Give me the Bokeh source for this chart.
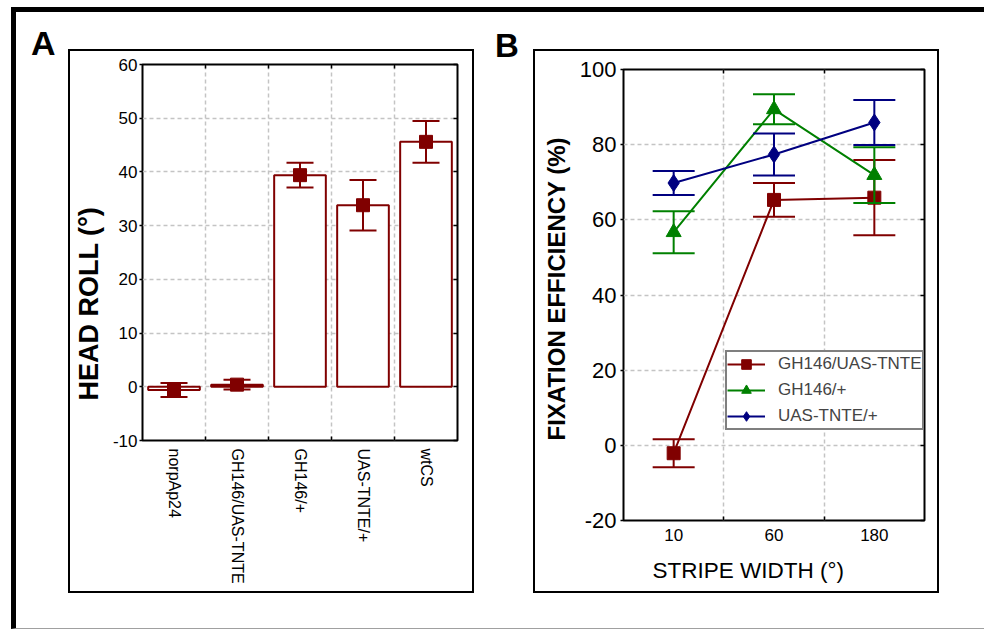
import numpy as np
from bokeh.plotting import figure
from bokeh.models import (Range1d, FixedTicker, SingleIntervalTicker, PrintfTickFormatter,
                          ColumnDataSource, Title, Spacer, Div, LinearAxis)
from bokeh.embed import file_html
from bokeh.resources import INLINE

FONT = "Liberation Sans"
RED = "#800000"
GREEN = "#008000"
NAVY = "#000080"
GRID = "#c4c4c4"

# ---------------- Panel A data ----------------
genotypes = ["norpAp24", "GH146/UAS-TNTE", "GH146/+", "UAS-TNTE/+", "wtCS"]
head_roll_mean = [-0.6, 0.4, 39.4, 33.8, 45.6]
head_roll_err = [1.3, 0.9, 2.3, 4.7, 3.9]
head_roll_ticks = [-10, 0, 10, 20, 30, 40, 50, 60]

# ---------------- Panel B data ----------------
stripe_widths = ["10", "60", "180"]
tnte_mean = [-2.1, 65.3, 65.9]
tnte_err = [3.7, 4.5, 10.0]
gh146_mean = [56.7, 89.4, 71.9]
gh146_err = [5.6, 4.0, 7.4]
uas_mean = [69.8, 77.4, 85.9]
uas_err = [3.2, 5.6, 6.0]
efficiency_ticks = [-20, 0, 20, 40, 60, 80, 100]


def absolute(left, top, extra=None):
    st = {"position": "absolute", "left": f"{left}px", "top": f"{top}px"}
    if extra:
        st.update(extra)
    return st


def style_axis(ax, size="16px", standoff=2, tick_in=0, tick_out=3):
    ax.axis_line_color = None
    ax.major_tick_line_color = "black"
    ax.major_tick_line_width = 1.5
    ax.major_tick_in = tick_in
    ax.major_tick_out = tick_out
    ax.minor_tick_line_color = "black"
    ax.minor_tick_line_width = 1.5
    ax.minor_tick_in = 4
    ax.minor_tick_out = 0
    ax.major_label_text_font = FONT
    ax.major_label_text_color = "black"
    ax.major_label_standoff = standoff
    ax.major_label_text_font_size = size


def tick_only_axis(minor_ticks):
    # an axis with no major ticks (so no labels) that only draws inward tick marks
    ax = LinearAxis(ticker=FixedTicker(ticks=[], minor_ticks=list(minor_ticks)))
    ax.axis_line_color = None
    ax.major_tick_line_color = None
    ax.minor_tick_line_color = "black"
    ax.minor_tick_line_width = 1.5
    ax.minor_tick_in = 4
    ax.minor_tick_out = 0
    ax.major_label_standoff = 0
    return ax


def style_grid(p):
    p.xgrid.grid_line_color = None
    p.xgrid.minor_grid_line_color = GRID
    p.xgrid.minor_grid_line_dash = "4 3"
    p.xgrid.minor_grid_line_width = 1.5
    p.ygrid.grid_line_color = GRID
    p.ygrid.grid_line_dash = "4 3"
    p.ygrid.grid_line_width = 1.5


def panel_letter(txt, size, left, top):
    html = (f'<div style="font-family:\'{FONT}\';font-size:{size};font-weight:bold;'
            f'line-height:{size};color:black;margin:0;padding:0;">{txt}</div>')
    return Div(text=html, styles=absolute(left, top, {"line-height": size, "margin": "0"}))


def panel_box(left, top, w, h):
    return Spacer(width=w, height=h,
                  styles=absolute(left, top, {"border": "2px solid black",
                                              "box-sizing": "border-box",
                                              "pointer-events": "none"}))


def axis_title(text, size, bold, offset, standoff):
    return Title(text=text, align="left", offset=offset, standoff=standoff,
                 text_font=FONT, text_font_size=size,
                 text_font_style="bold" if bold else "normal", text_color="black")


# ================= Panel A =================
nA = len(genotypes)
xa = np.arange(nA) + 0.5
mA = np.array(head_roll_mean)
eA = np.array(head_roll_err)
srcA = ColumnDataSource(dict(x=xa, mean=mA, upper=mA + eA, lower=mA - eA))

pA = figure(width=409, height=540, x_range=Range1d(0, nA),
            y_range=Range1d(head_roll_ticks[0], head_roll_ticks[-1]),
            output_backend="svg", toolbar_location=None,
            min_border_left=79, min_border_right=15, min_border_top=13, min_border_bottom=151,
            outline_line_color="black", outline_line_width=2,
            styles=absolute(63, 51))

boundsA = list(np.arange(1, nA))
tickA_x = FixedTicker(ticks=list(xa), minor_ticks=boundsA)
tickA_y = FixedTicker(ticks=head_roll_ticks)
pA.xaxis.ticker = tickA_x
pA.xgrid.ticker = tickA_x
pA.yaxis.ticker = tickA_y
pA.ygrid.ticker = tickA_y
pA.yaxis.formatter = PrintfTickFormatter(format="%d")
pA.xaxis.major_label_overrides = {float(x): g for x, g in zip(xa, genotypes)}
pA.xaxis.major_label_orientation = "vertical"
style_axis(pA.xaxis[0], size="16px", standoff=8, tick_in=0, tick_out=0)
style_axis(pA.yaxis[0], size="17px", standoff=2, tick_in=0, tick_out=3)
style_grid(pA)
pA.add_layout(tick_only_axis(boundsA), "above")
pA.add_layout(tick_only_axis(head_roll_ticks), "right")

pA.vbar(x="x", top="mean", bottom=0, width=0.82, source=srcA,
        fill_color="white", line_color=RED, line_width=2)
pA.segment(x0="x", y0="lower", x1="x", y1="upper", source=srcA, line_color=RED, line_width=2)
pA.scatter(x="x", y="upper", source=srcA, marker="dash", size=27, line_color=RED, line_width=2)
pA.scatter(x="x", y="lower", source=srcA, marker="dash", size=27, line_color=RED, line_width=2)
pA.scatter(x="x", y="mean", source=srcA, marker="square", size=13, color=RED)

pA.add_layout(axis_title("HEAD ROLL (°)", "27px", True, 40, 12), "left")

# ================= Panel B =================
nB = len(stripe_widths)
xb = np.arange(nB) + 0.5

pB = figure(width=409, height=555, x_range=Range1d(0, nB),
            y_range=Range1d(efficiency_ticks[0], efficiency_ticks[-1]),
            output_backend="svg", toolbar_location=None,
            min_border_left=95, min_border_right=13, min_border_top=18, min_border_bottom=86,
            outline_line_color="black", outline_line_width=2,
            styles=absolute(528, 51))

boundsB = list(np.arange(1, nB))
tickB_x = FixedTicker(ticks=list(xb), minor_ticks=boundsB)
tickB_y = FixedTicker(ticks=efficiency_ticks)
pB.xaxis.ticker = tickB_x
pB.xgrid.ticker = tickB_x
pB.yaxis.ticker = tickB_y
pB.ygrid.ticker = tickB_y
pB.yaxis.formatter = PrintfTickFormatter(format="%d")
pB.xaxis.major_label_overrides = {float(x): s for x, s in zip(xb, stripe_widths)}
style_axis(pB.xaxis[0], size="17px", standoff=8, tick_in=0, tick_out=0)
style_axis(pB.yaxis[0], size="22px", standoff=4, tick_in=0, tick_out=3)
style_grid(pB)
pB.add_layout(tick_only_axis(boundsB), "above")
pB.add_layout(tick_only_axis(efficiency_ticks), "right")

series = [
    ("GH146/UAS-TNTE", tnte_mean, tnte_err, RED, "square", 13),
    ("GH146/+", gh146_mean, gh146_err, GREEN, "triangle", 15),
    ("UAS-TNTE/+", uas_mean, uas_err, NAVY, "diamond", 17),
]
for name, mean, err, col, marker, size in series:
    m = np.array(mean)
    e = np.array(err)
    src = ColumnDataSource(dict(x=xb, mean=m, upper=m + e, lower=m - e))
    pB.segment(x0="x", y0="lower", x1="x", y1="upper", source=src, line_color=col, line_width=2)
    pB.scatter(x="x", y="upper", source=src, marker="dash", size=42, line_color=col, line_width=2)
    pB.scatter(x="x", y="lower", source=src, marker="dash", size=42, line_color=col, line_width=2)
    pB.line(x="x", y="mean", source=src, line_color=col, line_width=2, legend_label=name)
    pB.scatter(x="x", y="mean", source=src, marker=marker, size=size,
               color=col, legend_label=name)

lg = pB.legend[0]
lg.location = (102, 90)
lg.margin = 0
lg.padding = 0
lg.spacing = 2
lg.glyph_width = 38
lg.glyph_height = 24
lg.label_height = 24
lg.label_standoff = 13
lg.label_text_font = FONT
lg.label_text_font_size = "17px"
lg.border_line_color = "black"
lg.border_line_width = 2
lg.background_fill_color = "white"
lg.background_fill_alpha = 1

pB.add_layout(axis_title("FIXATION EFFICIENCY (%)", "24px", True, 80, 14), "left")
pB.add_layout(axis_title("STRIPE WIDTH (°)", "22.5px", False, 29, 25), "below")

# ================= Page decorations =================
frame = Spacer(width=973, height=622,
               styles=absolute(11, 7, {"border-left": "5px solid black",
                                       "border-top": "5px solid black",
                                       "border-bottom": "1px solid #a0a0a0",
                                       "box-sizing": "border-box"}))
letA = panel_letter("A", "34px", 31, 26)
letB = panel_letter("B", "33px", 495, 29)
boxA = panel_box(68, 49, 406, 544)
boxB = panel_box(533, 49, 406, 544)

open("out.html", "w").write(file_html([frame, letA, pA, boxA, letB, pB, boxB], INLINE))
